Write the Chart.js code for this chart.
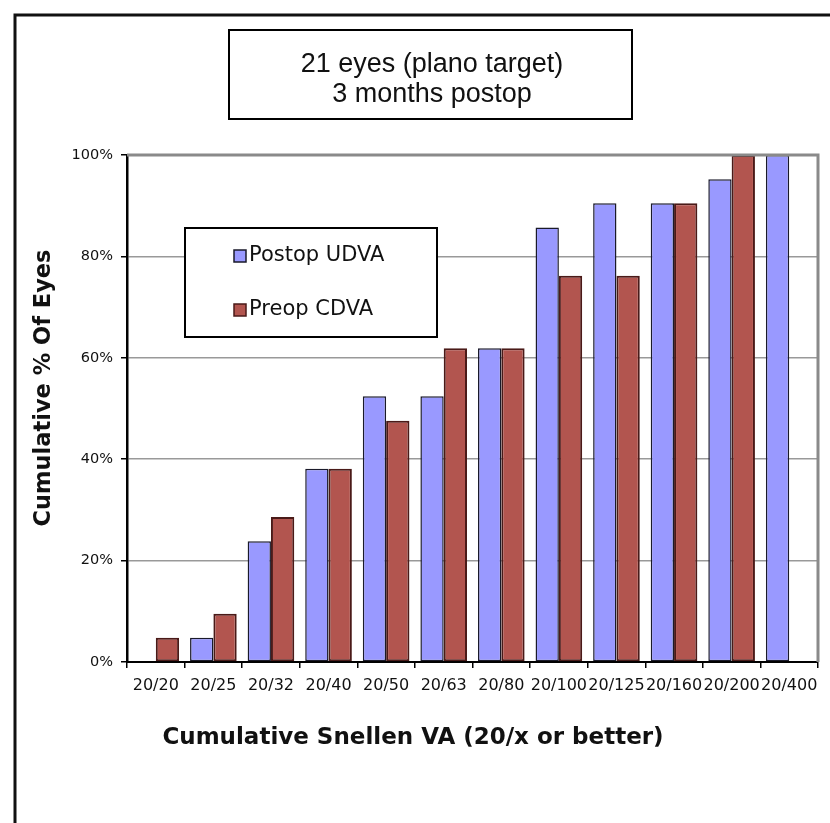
<!DOCTYPE html>
<html>
<head>
<meta charset="utf-8">
<title>Cumulative Snellen VA</title>
<script src="https://cdn.jsdelivr.net/npm/chart.js@4/dist/chart.umd.min.js"></script>
<style>
  html, body { margin: 0; padding: 0; background: #fff; }
  #grafico { display: block; }
</style>
</head>
<body>
<canvas id="grafico" width="830" height="823"></canvas>
<script>
// =====================================================
// DATA (21 eyes -> steps of 1/21)
// =====================================================
const categorias = ['20/20', '20/25', '20/32', '20/40', '20/50', '20/63', '20/80', '20/100', '20/125', '20/160', '20/200', '20/400'];
const postopUDVA = [0, 4.8, 23.8, 38.1, 52.4, 52.4, 61.9, 85.7, 90.5, 90.5, 95.2, 100];
const preopCDVA  = [4.8, 9.5, 28.6, 38.1, 47.6, 61.9, 61.9, 76.2, 76.2, 90.5, 100, null];
const yTicks     = [0, 20, 40, 60, 80, 100];

const tituloLinhas = ['21 eyes (plano target)', '3 months postop'];
const tituloX = 'Cumulative Snellen VA (20/x or better)';
const tituloY = 'Cumulative % Of Eyes';

// =====================================================
// DECORATIONS: outer frame, title box, legend box, axis titles
// =====================================================
const decoracoes = {
  id: 'decoracoes',
  beforeDraw(chart) {
    const { ctx } = chart;
    ctx.save();
    ctx.fillStyle = '#fff';
    ctx.fillRect(0, 0, chart.width, chart.height);
    ctx.restore();
  },
  afterDraw(chart) {
    const { ctx, chartArea } = chart;
    ctx.save();

    // plot area grey frame (top + right)
    ctx.strokeStyle = '#8a8a8a';
    ctx.lineWidth = 3;
    ctx.beginPath();
    ctx.moveTo(chartArea.left, chartArea.top);
    ctx.lineTo(chartArea.right, chartArea.top);
    ctx.lineTo(chartArea.right, chartArea.bottom);
    ctx.stroke();

    // outer frame, runs past the right and bottom edges
    ctx.strokeStyle = '#111';
    ctx.lineWidth = 3;
    ctx.beginPath();
    ctx.moveTo(15, chart.height + 5);
    ctx.lineTo(15, 15);
    ctx.lineTo(chart.width + 5, 15);
    ctx.stroke();

    // title box
    ctx.lineWidth = 2;
    ctx.strokeStyle = '#000';
    ctx.fillStyle = '#fff';
    ctx.fillRect(229, 30, 403, 89);
    ctx.strokeRect(229, 30, 403, 89);
    ctx.fillStyle = '#111';
    ctx.font = '27px "Liberation Sans", Arial, sans-serif';
    ctx.textAlign = 'center';
    ctx.textBaseline = 'alphabetic';
    ctx.fillText(tituloLinhas[0], 432, 72);
    ctx.fillText(tituloLinhas[1], 432, 102);

    // legend box
    ctx.fillStyle = '#fff';
    ctx.fillRect(185, 228, 252, 109);
    ctx.strokeStyle = '#000';
    ctx.lineWidth = 2;
    ctx.strokeRect(185, 228, 252, 109);
    const linhasY = [256, 310];
    chart.data.datasets.forEach((ds, i) => {
      const y = linhasY[i];
      ctx.fillStyle = ds.backgroundColor;
      ctx.fillRect(234, y - 6, 12, 12);
      ctx.strokeStyle = ds.borderColor;
      ctx.lineWidth = 1.5;
      ctx.strokeRect(234, y - 6, 12, 12);
      ctx.fillStyle = '#111';
      ctx.font = '21px "DejaVu Sans", Verdana, sans-serif';
      ctx.textAlign = 'left';
      ctx.textBaseline = 'middle';
      ctx.fillText(ds.label, 249, y);
    });

    // axis titles
    ctx.fillStyle = '#111';
    ctx.font = 'bold 23px "DejaVu Sans", Verdana, sans-serif';
    ctx.textAlign = 'center';
    ctx.textBaseline = 'middle';
    ctx.fillText(tituloX, 413, 738);

    ctx.translate(44, 388);
    ctx.rotate(-Math.PI / 2);
    ctx.font = 'bold 22.5px "DejaVu Sans", Verdana, sans-serif';
    ctx.fillText(tituloY, 0, 0);

    ctx.restore();
  },
};

// =====================================================
// BAR CHART
// =====================================================
function renderizarGrafico() {
  const ctx = document.getElementById('grafico');

  new Chart(ctx, {
    type: 'bar',
    data: {
      labels: categorias,
      datasets: [
        {
          label: 'Postop UDVA',
          data: postopUDVA,
          backgroundColor: '#9999ff',
          borderColor: '#1a1a2a',
          borderWidth: 1.5,
          borderSkipped: false,
        },
        {
          label: 'Preop CDVA',
          data: preopCDVA,
          backgroundColor: '#b2554f',
          borderColor: '#4a1a18',
          borderWidth: 2,
          borderSkipped: false,
        },
      ],
    },
    options: {
      responsive: false,
      animation: false,
      devicePixelRatio: 1,
      layout: { padding: { top: 155, right: 12, left: 0, bottom: 0 } },
      datasets: { bar: { categoryPercentage: 0.81, barPercentage: 1 } },
      plugins: {
        legend: { display: false },
        tooltip: { enabled: false },
        title: { display: false },
      },
      scales: {
        x: {
          afterFit: (scale) => { scale.height = 161; },
          grid: {
            display: true,
            drawOnChartArea: false,
            drawTicks: true,
            offset: true,
            tickLength: 6,
            color: '#000',
            lineWidth: 1.5,
          },
          border: { display: true, color: '#000', width: 2 },
          ticks: {
            color: '#111',
            font: { family: '"DejaVu Sans", Verdana, sans-serif', size: 16 },
            maxRotation: 0,
            minRotation: 0,
            autoSkip: false,
            padding: 8,
          },
        },
        y: {
          min: 0,
          max: 100,
          afterFit: (scale) => { scale.width = 127; },
          afterBuildTicks: (scale) => { scale.ticks = yTicks.map((v) => ({ value: v })); },
          grid: {
            color: '#999',
            lineWidth: 1.5,
            tickLength: 6,
            tickColor: '#000',
          },
          border: { display: true, color: '#000', width: 2.5 },
          ticks: {
            color: '#111',
            font: { family: '"DejaVu Sans", Verdana, sans-serif', size: 14.5 },
            padding: 8,
            callback: (v) => `${v}%`,
          },
        },
      },
    },
    plugins: [decoracoes],
  });
}

// =====================================================
// INIT
// =====================================================
document.addEventListener('DOMContentLoaded', () => {
  renderizarGrafico();
});
</script>
</body>
</html>
